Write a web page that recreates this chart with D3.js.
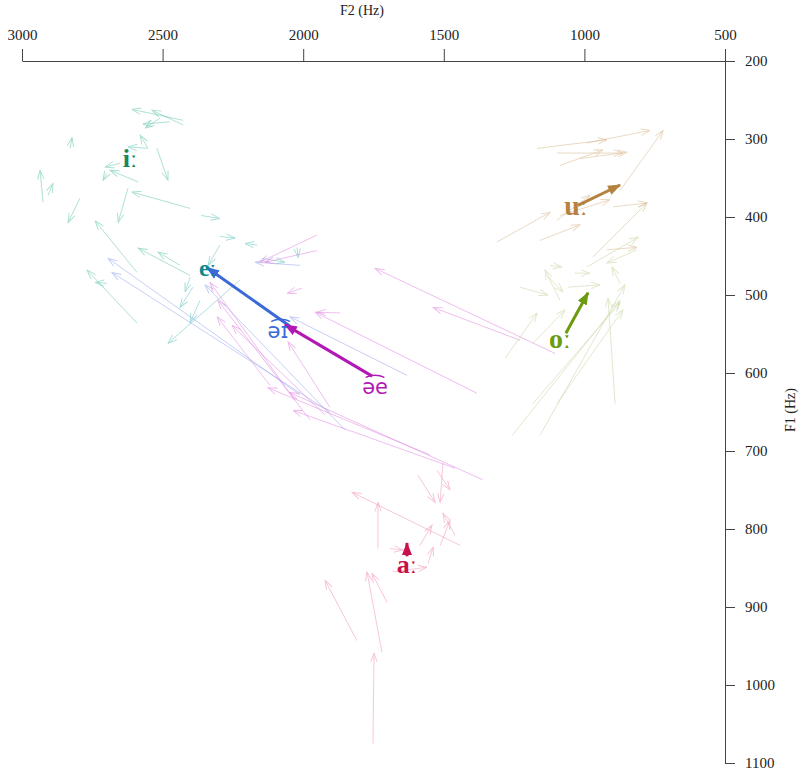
<!DOCTYPE html>
<html><head><meta charset="utf-8">
<script src="https://cdn.jsdelivr.net/npm/d3@7"></script>
<style>body{margin:0;background:#fff}svg{display:block}</style>
</head><body>
<script>
// ---------- DATA ----------
const f2Ticks = [3000, 2500, 2000, 1500, 1000, 500];
const f1Ticks = [200, 300, 400, 500, 600, 700, 800, 900, 1000, 1100];

const vowels = ["iː", "eː", "ə͡ɪ", "ə͡e", "aː", "uː", "oː"];
const meanOnsetF2  = [2616, 2340, 2047, 1755, 1631, 1023, 1066];
const meanOnsetF1  = [324, 465, 540, 604, 835, 385, 549];
const meanOffsetF2 = [2616, 2340, 2342, 2065, 1631, 873, 987];
const meanOffsetF1 = [324, 465, 465, 538, 818, 359, 497];

// tokens: [onsetF2, onsetF1, offsetF2, offsetF1]
const iTokens = [
  [2427,276,2609,262],[2427,282,2538,263],[2474,278,2570,281],[2509,273,2562,286],
  [2552,312,2580,295],[2555,312,2623,310],[2829,312,2822,298],[2520,312,2481,353],
  [2651,331,2705,336],[2587,355,2687,340],[2925,381,2936,340],[2907,372,2890,357],
  [2623,363,2658,407],[2402,389,2609,368],[2794,376,2836,407],[2698,344,2712,353],
  [2591,471,2740,405],[2402,475,2587,440],[2438,462,2516,445],[2591,536,2769,468],
  [2698,485,2740,484]
];
const eTokens = [
  [2363,398,2297,402],[2296,425,2242,427],[2164,436,2207,434],[2296,436,2338,462],
  [2402,477,2420,496],[2392,490,2438,516],[2225,481,2481,562],[2146,453,2065,458],
  [2022,439,2018,452],[2367,507,2402,535]
];
const aiTokens = [
  [1631,603,2047,528],[2011,628,2694,453],[1905,650,2680,471],[2011,462,2171,458],
  [1851,673,2349,487]
];
const aeTokens = [
  [1104,575,1744,466],[1229,558,1538,516],[1382,626,1958,522],[1951,423,2154,458],
  [1951,443,2136,458],[2004,491,2057,498],[1869,523,1951,522],[1361,737,2047,625],
  [1460,722,2036,648],[1549,705,2125,619],[2029,635,2331,484],[1976,660,2303,507],
  [1922,654,2253,539],[1905,644,2054,560],[2118,616,2306,528]
];
const aTokens = [
  [1442,821,1826,753],[1734,825,1734,766],[1503,716,1513,766],[1592,731,1531,766],
  [1524,725,1478,750],[1460,808,1503,780],[1556,844,1538,823],[1691,825,1645,827],
  [1681,855,1560,849],[1809,943,1922,866],[1720,958,1773,855],[1702,894,1755,857],
  [1752,1075,1748,959],[1513,821,1478,789],[1585,821,1542,795]
];
const uTokens = [
  [990,305,767,289],[1168,312,920,301],[1097,318,863,318],[1087,334,934,314],
  [1016,325,848,317],[873,366,720,289],[1311,432,1122,394],[1097,404,980,372],
  [1087,398,909,378],[898,387,777,382],[969,451,777,382],[920,442,813,439],
  [1158,430,1016,410]
];
const oTokens = [
  [1122,462,1080,464],[1034,472,980,472],[1133,475,1076,496],[1229,490,1130,500],
  [1058,490,944,487],[991,464,809,426],[813,442,920,459],[873,485,902,464],
  [1183,639,873,510],[1097,639,863,519],[891,639,916,504],[1282,581,1168,523],
  [1183,562,1069,519],[1257,680,873,507],[1158,680,856,487],[1087,507,1140,468]
];

// ---------- STYLE / LAYOUT ----------
const W = 802, H = 772;
const X0 = 22, X1 = 725, Y0 = 61, Y1 = 763;
const serif = "'Liberation Serif','Times New Roman',serif";

const tokenGroups = [
  {data: iTokens,  color: "#5cc4ac"},
  {data: eTokens,  color: "#5cc4bc"},
  {data: aiTokens, color: "#8ea0ee"},
  {data: aeTokens, color: "#e07ee0"},
  {data: aTokens,  color: "#f08cb8"},
  {data: uTokens,  color: "#d6b488"},
  {data: oTokens,  color: "#c2d49a"}
];
const meanColors = ["#158a5c", "#0e8a8e", "#3a69d8", "#b218b6", "#c8124c", "#b5833f", "#6c9a10"];
const labelFont  = [serif, serif, "'DejaVu Sans',sans-serif", "'DejaVu Sans',sans-serif", serif, serif, serif];
const labelSize  = [26, 24, 21, 21, 26, 28, 28];
const labelNudge = [[0,0],[0,0],[-12,4],[3,11],[0,8],[-2,0],[-6,5]];

const svg = d3.select("body").append("svg").attr("width", W).attr("height", H);

const x = d3.scaleLinear().domain([3000, 500]).range([X0, X1]);
const y = d3.scaleLinear().domain([200, 1100]).range([Y0, Y1]);

const defs = svg.append("defs");
tokenGroups.forEach((g, i) => {
  defs.append("marker").attr("id", "tk" + i)
    .attr("viewBox", "-1 -5 12 10").attr("refX", 9).attr("refY", 0)
    .attr("markerWidth", 12).attr("markerHeight", 10)
    .attr("markerUnits", "userSpaceOnUse").attr("orient", "auto")
    .append("path").attr("d", "M0,-3.2L9,0L0,3.2")
    .attr("fill", "none").attr("stroke", g.color).attr("stroke-width", 0.9);
});
meanColors.forEach((c, i) => {
  defs.append("marker").attr("id", "mn" + i)
    .attr("viewBox", "0 -6 14 12").attr("refX", 12).attr("refY", 0)
    .attr("markerWidth", 14).attr("markerHeight", 12)
    .attr("markerUnits", "userSpaceOnUse").attr("orient", "auto")
    .append("path").attr("d", "M0,-5L13,0L0,5Z").attr("fill", c);
});

// token arrows
const tg = svg.append("g");
tokenGroups.forEach((g, i) => {
  tg.append("g").selectAll("line").data(g.data).join("line")
    .attr("x1", d => x(d[0])).attr("y1", d => y(d[1]))
    .attr("x2", d => x(d[2])).attr("y2", d => y(d[3]))
    .attr("stroke", g.color).attr("stroke-width", 0.9).attr("opacity", 0.55)
    .attr("marker-end", `url(#tk${i})`);
});

// mean arrows
const mg = svg.append("g");
vowels.forEach((v, i) => {
  const len = Math.hypot(x(meanOffsetF2[i]) - x(meanOnsetF2[i]), y(meanOffsetF1[i]) - y(meanOnsetF1[i]));
  if (len > 2) {
    mg.append("line")
      .attr("x1", x(meanOnsetF2[i])).attr("y1", y(meanOnsetF1[i]))
      .attr("x2", x(meanOffsetF2[i])).attr("y2", y(meanOffsetF1[i]))
      .attr("stroke", meanColors[i]).attr("stroke-width", 3)
      .attr("marker-end", `url(#mn${i})`);
  }
});
vowels.forEach((v, i) => {
  mg.append("text")
    .attr("x", x(meanOnsetF2[i]) + labelNudge[i][0])
    .attr("y", y(meanOnsetF1[i]) + labelNudge[i][1])
    .attr("dy", "0.35em").attr("text-anchor", "middle")
    .attr("font-family", labelFont[i]).attr("font-size", labelSize[i])
    .attr("font-weight", i >= 2 && i <= 3 ? "normal" : "bold")
    .attr("fill", meanColors[i]).text(v);
});

// axes
const axTop = svg.append("g").attr("transform", `translate(0,${Y0})`)
  .call(d3.axisTop(x).tickValues(f2Ticks).tickSize(12).tickSizeOuter(0).tickPadding(9).tickFormat(d3.format("d")));
const axRight = svg.append("g").attr("transform", `translate(${X1},0)`)
  .call(d3.axisRight(y).tickValues(f1Ticks).tickSize(10).tickSizeOuter(0).tickPadding(10).tickFormat(d3.format("d")));
[axTop, axRight].forEach(a => {
  a.selectAll("path, line").attr("stroke", "#444").attr("stroke-width", 1);
  a.selectAll("text").attr("font-family", serif).attr("font-size", 15).attr("fill", "#222");
});

svg.append("text").attr("x", 362).attr("y", 15).attr("text-anchor", "middle")
  .attr("font-family", serif).attr("font-size", 14).attr("fill", "#222").text("F2 (Hz)");
svg.append("text").attr("transform", "translate(795,410) rotate(-90)").attr("text-anchor", "middle")
  .attr("font-family", serif).attr("font-size", 14).attr("fill", "#222").text("F1 (Hz)");
</script>
</body></html>
